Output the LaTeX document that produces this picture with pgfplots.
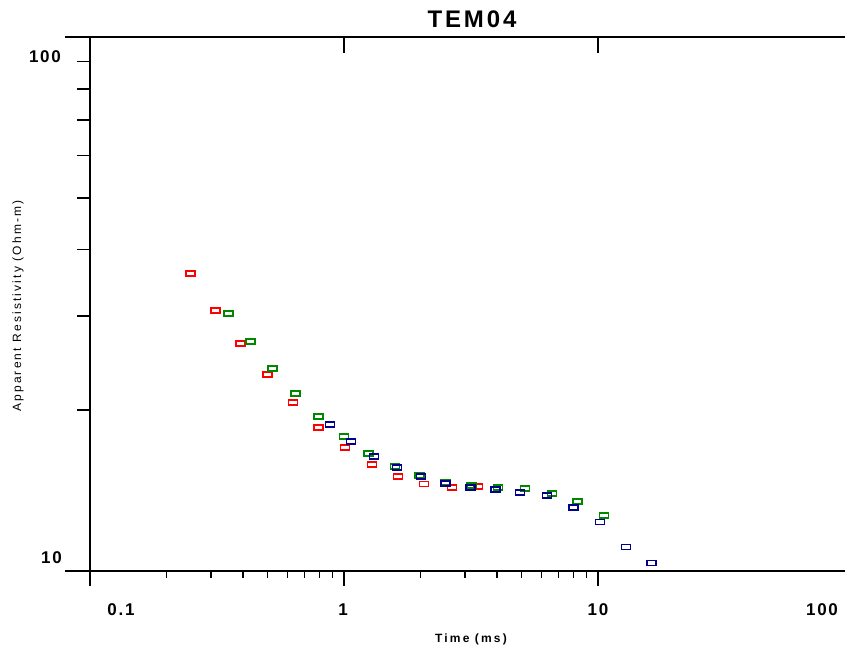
\documentclass[border=0pt]{standalone}
\usepackage{fontspec}
\setmainfont{Liberation Sans}
\newfontfamily\tickfont[LetterSpace=10]{Liberation Sans}
\newfontfamily\titlefont[LetterSpace=12]{Liberation Sans}
\newfontfamily\labelfont[LetterSpace=18]{Liberation Sans}
\usepackage{pgfplots}
\pgfplotsset{compat=1.18}
\pgfdeclareplotmark{rect}{%
  \pgfpathrectangle{\pgfqpoint{-4.5bp}{-2.5bp}}{\pgfqpoint{9bp}{5bp}}%
  \pgfusepathqstroke}
\definecolor{mred}{RGB}{255,0,0}
\definecolor{mgreen}{RGB}{0,135,0}
\definecolor{mblue}{RGB}{0,0,140}
\begin{document}
\begin{tikzpicture}
\path[use as bounding box] (-90bp,-78bp) rectangle (755bp,571bp);
\begin{axis}[
  at={(0bp,0bp)}, anchor=south west,
  scale only axis, width=755bp, height=534bp,
  xmode=log, ymode=log,
  xmin=0.1, xmax=93.9, ymin=10, ymax=100,
  axis x line*=bottom, axis y line*=left,
  axis line style={line width=1.6bp, black},
  xtick={0.1,1,10}, xticklabels={,,},
  ytick=\empty,
  tick align=outside,
  major tick length=15bp, minor tick length=7bp,
  tick style={line width=1.6bp, black},
  clip=false,
]
\coordinate (tl) at (axis cs:0.1,100);
\coordinate (tr) at (axis cs:93.9,100);
\coordinate (br) at (axis cs:93.9,10);
\coordinate (t1) at (axis cs:1,100);
\coordinate (t10) at (axis cs:10,100);
\coordinate (y10) at (axis cs:0.1,10);
\pgfplotsinvokeforeach{20,30,40,50,60,70,80,90}{
  \coordinate (y#1) at (axis cs:0.1,#1);
}
\addplot[only marks, mark=rect, color=mred, mark options={line width=1.9bp}] coordinates {
(0.2497,36.06) (0.313,30.75) (0.393,26.69) (0.498,23.34) (0.630,20.70)
(0.797,18.58) (1.009,17.05) (1.289,15.85) (1.632,15.05) (2.065,14.55)
(2.663,14.36) (3.37,14.42)
};
\addplot[only marks, mark=rect, color=mgreen, mark options={line width=1.9bp}] coordinates {
(0.352,30.35) (0.427,26.91) (0.525,23.96) (0.647,21.51) (0.797,19.49)
(1.0,17.88) (1.254,16.62) (1.588,15.72) (1.991,15.11) (2.52,14.67)
(3.19,14.48) (4.04,14.36) (5.16,14.29) (6.59,13.99) (8.34,13.52) (10.56,12.72)
};
\addplot[only marks, mark=rect, color=mblue, mark options={line width=1.9bp}] coordinates {
(0.881,18.83) (1.066,17.50) (1.313,16.40) (1.617,15.65) (2.01,15.05)
(2.52,14.61) (3.16,14.36) (3.96,14.23) (4.93,14.05) (6.30,13.87)
(8.04,13.17) (10.19,12.35) (12.9,11.09) (16.3,10.35)
};
\end{axis}
% frame details
\draw[line width=1.6bp] (tl) -- (tr) -- ++(10bp,0);
\draw[line width=1.6bp] (br) -- ++(10bp,0);
\draw[line width=1.6bp] (t1) -- ++(0,-16bp);
\draw[line width=1.6bp] (t10) -- ++(0,-16bp);
\draw[line width=1.6bp] (y10) -- ++(-25bp,0);
\draw[line width=1.6bp] (tl) -- ++(-25bp,0);
\foreach \v in {20,30,40,50,60,70,80,90}{
  \draw[line width=1.6bp] (y\v) -- ++(-13bp,0);
}
% tick labels
\node[font=\tickfont\bfseries\fontsize{17bp}{20bp}\selectfont] at (31bp,-39bp) {0.1};
\node[font=\tickfont\bfseries\fontsize{17bp}{20bp}\selectfont] at (253bp,-39bp) {1};
\node[font=\tickfont\bfseries\fontsize{17bp}{20bp}\selectfont] at (508bp,-39bp) {10};
\node[font=\tickfont\bfseries\fontsize{17bp}{20bp}\selectfont] at (732bp,-39bp) {100};
\node[font=\tickfont\bfseries\fontsize{17bp}{20bp}\selectfont, anchor=east, inner sep=0pt] at (-28bp,13bp) {10};
\node[font=\tickfont\bfseries\fontsize{17bp}{20bp}\selectfont, anchor=east, inner sep=0pt] at (-29bp,514bp) {100};
% title and axis labels
\node[font=\titlefont\bfseries\fontsize{24bp}{28bp}\selectfont] at (382bp,551.5bp) {TEM04};
\node[font=\labelfont\bfseries\fontsize{12bp}{14bp}\selectfont] at (381bp,-68bp) {Time (ms)};
\node[font=\labelfont\fontsize{12bp}{14bp}\selectfont, rotate=90] at (-72bp,265bp) {Apparent Resistivity (Ohm-m)};
\end{tikzpicture}
\end{document}
